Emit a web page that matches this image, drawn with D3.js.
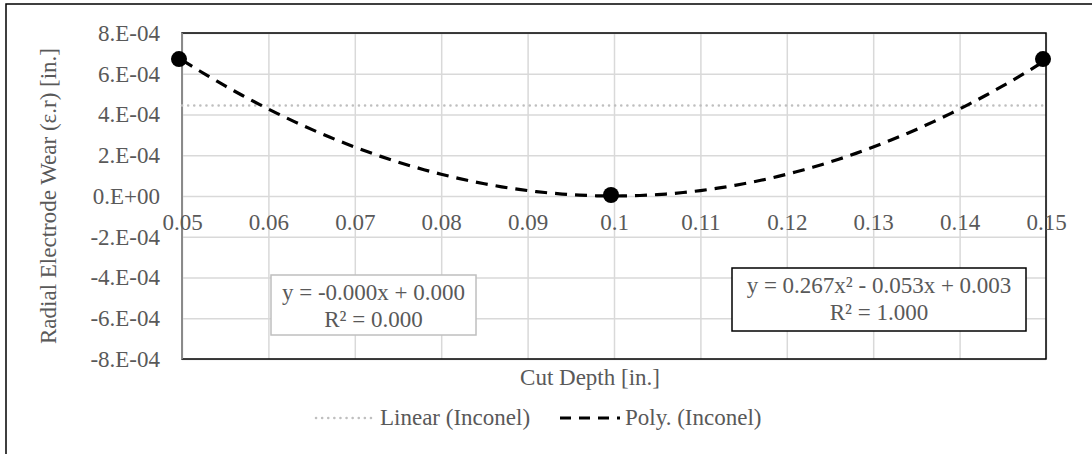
<!DOCTYPE html>
<html>
<head>
<meta charset="utf-8">
<script src="https://cdn.jsdelivr.net/npm/d3@7"></script>
<style>
  body { margin: 0; background: #fff; }
  svg { display: block; }
  text { font-family: "Liberation Serif", "Times New Roman", serif; fill: #595959; }
</style>
</head>
<body>
<div id="chart"></div>
<script>
// chart data
const cutDepth = [0.05, 0.10, 0.15];
const radialWear = [6.67e-4, 0.0, 6.67e-4];
const xTicks = [0.05, 0.06, 0.07, 0.08, 0.09, 0.10, 0.11, 0.12, 0.13, 0.14, 0.15];
const yTicks = [-8e-4, -6e-4, -4e-4, -2e-4, 0, 2e-4, 4e-4, 6e-4, 8e-4];
const linearLabel = ["y = -0.000x + 0.000", "R² = 0.000"];
const polyLabel = ["y = 0.267x² - 0.053x + 0.003", "R² = 1.000"];
const legendNames = ["Linear (Inconel)", "Poly. (Inconel)"];

const width = 1092;
const height = 454;
const margin = {left: 182, right: 46, top: 33, bottom: 95};
const fontSize = "23px";

const svg = d3.select("#chart")
  .append("svg")
  .attr("width", width)
  .attr("height", height);

// outer chart frame
svg.append("rect")
  .attr("x", 6).attr("y", 4)
  .attr("width", width + 10).attr("height", height + 10)
  .attr("fill", "none")
  .attr("stroke", "#000")
  .attr("stroke-width", 1.5);

let xScale = d3.scaleLinear()
  .domain([0.05, 0.15])
  .range([margin.left, width - margin.right]);

let yScale = d3.scaleLinear()
  .domain([-8e-4, 8e-4])
  .range([height - margin.bottom, margin.top]);

// least squares fit, returns coefficients low->high
function polyFit(xs, ys, deg) {
  const n = deg + 1;
  const A = [], b = [];
  for (let r = 0; r < n; r++) {
    A.push([]);
    for (let c = 0; c < n; c++) A[r].push(d3.sum(xs, x => Math.pow(x, r + c)));
    b.push(d3.sum(xs, (x, i) => ys[i] * Math.pow(x, r)));
  }
  // gauss elimination
  for (let i = 0; i < n; i++) {
    for (let k = i + 1; k < n; k++) {
      const f = A[k][i] / A[i][i];
      for (let j = i; j < n; j++) A[k][j] -= f * A[i][j];
      b[k] -= f * b[i];
    }
  }
  const coef = new Array(n).fill(0);
  for (let i = n - 1; i >= 0; i--) {
    let s = b[i];
    for (let j = i + 1; j < n; j++) s -= A[i][j] * coef[j];
    coef[i] = s / A[i][i];
  }
  return coef;
}
const evalPoly = (coef, x) => d3.sum(coef, (c, i) => c * Math.pow(x, i));

const linCoef = polyFit(cutDepth, radialWear, 1);
const quadCoef = polyFit(cutDepth, radialWear, 2);

// y tick format like "6.E-04"
function sciFmt(d) {
  if (d === 0) return "0.E+00";
  const e = Math.floor(Math.log10(Math.abs(d)) + 1e-9);
  const m = Math.round(d / Math.pow(10, e));
  const es = (e < 0 ? "-" : "+") + String(Math.abs(e)).padStart(2, "0");
  return m + ".E" + es;
}

// gridlines
svg.append("g")
  .attr("transform", `translate(${margin.left},0)`)
  .call(d3.axisLeft(yScale).tickValues(yTicks)
    .tickSize(-(width - margin.left - margin.right)).tickFormat(""))
  .call(g => g.select(".domain").remove())
  .call(g => g.selectAll("line").attr("stroke", "#d9d9d9").attr("stroke-width", 1.5));

svg.append("g")
  .attr("transform", `translate(0,${height - margin.bottom})`)
  .call(d3.axisBottom(xScale).tickValues(xTicks)
    .tickSize(-(height - margin.top - margin.bottom)).tickFormat(""))
  .call(g => g.select(".domain").remove())
  .call(g => g.selectAll("line").attr("stroke", "#d9d9d9").attr("stroke-width", 1.5));

// plot frame
svg.append("rect")
  .attr("x", margin.left).attr("y", margin.top)
  .attr("width", width - margin.left - margin.right)
  .attr("height", height - margin.top - margin.bottom)
  .attr("fill", "none")
  .attr("stroke", "#000")
  .attr("stroke-width", 1.5);

svg.append("line")
  .attr("x1", margin.left).attr("x2", margin.left)
  .attr("y1", margin.top).attr("y2", height - margin.bottom)
  .attr("stroke", "#a6a6a6")
  .attr("stroke-width", 1.5);

// y axis labels
svg.append("g")
  .attr("transform", `translate(${margin.left},0)`)
  .call(d3.axisLeft(yScale).tickValues(yTicks).tickSize(0).tickPadding(22).tickFormat(sciFmt))
  .call(g => g.select(".domain").remove())
  .selectAll("text")
    .attr("font-family", "Liberation Serif")
    .attr("font-size", fontSize)
    .attr("fill", "#595959");

// x axis labels sit under the zero line
svg.append("g")
  .attr("transform", `translate(0,${yScale(0)})`)
  .call(d3.axisBottom(xScale).tickValues(xTicks).tickSize(0).tickPadding(18).tickFormat(d3.format("~g")))
  .call(g => g.select(".domain").remove())
  .selectAll("text")
    .attr("font-family", "Liberation Serif")
    .attr("font-size", fontSize)
    .attr("fill", "#595959");

// trendlines
const xs = d3.range(0, 101).map(i => 0.05 + i * 0.001);

svg.append("path")
  .datum(xs)
  .attr("fill", "none")
  .attr("stroke", "#bfbfbf")
  .attr("stroke-width", 2.5)
  .attr("stroke-linecap", "round")
  .attr("stroke-dasharray", "0.1 6")
  .attr("d", d3.line().x(d => xScale(d)).y(d => yScale(evalPoly(linCoef, d))));

svg.append("path")
  .datum(xs)
  .attr("fill", "none")
  .attr("stroke", "#000")
  .attr("stroke-width", 3.2)
  .attr("stroke-dasharray", "12 8")
  .attr("d", d3.line().x(d => xScale(d)).y(d => yScale(evalPoly(quadCoef, d))));

// data points
svg.selectAll(".pt")
  .data(cutDepth)
  .enter()
  .append("circle")
    .attr("class", "pt")
    .attr("cx", d => xScale(d) - 3)
    .attr("cy", (d, i) => yScale(radialWear[i]) - 1)
    .attr("r", 8)
    .attr("fill", "#000");

// equation boxes
function eqBox(x, y, w, h, stroke, lines) {
  svg.append("rect")
    .attr("x", x).attr("y", y).attr("width", w).attr("height", h)
    .attr("fill", "#fff")
    .attr("stroke", stroke)
    .attr("stroke-width", 1.5);
  svg.append("text")
    .attr("x", x + w / 2).attr("y", y + 25)
    .attr("text-anchor", "middle")
    .attr("font-size", fontSize)
    .text(lines[0]);
  svg.append("text")
    .attr("x", x + w / 2).attr("y", y + 52)
    .attr("text-anchor", "middle")
    .attr("font-size", fontSize)
    .text(lines[1]);
}
eqBox(271, 275, 205, 60, "#bfbfbf", linearLabel);
eqBox(732, 268, 294, 63, "#000", polyLabel);

// axis titles
svg.append("text")
  .attr("x", 590).attr("y", 385)
  .attr("text-anchor", "middle")
  .attr("font-size", fontSize)
  .text("Cut Depth [in.]");

svg.append("text")
  .attr("transform", `translate(56,${(margin.top + height - margin.bottom) / 2}) rotate(-90)`)
  .attr("text-anchor", "middle")
  .attr("font-size", fontSize)
  .text("Radial Electrode Wear (ε.r) [in.]");

// legend
const legend = svg.append("g").attr("transform", "translate(0,418)");
legend.append("line")
  .attr("x1", 316).attr("x2", 373)
  .attr("stroke", "#bfbfbf")
  .attr("stroke-width", 2.5)
  .attr("stroke-linecap", "round")
  .attr("stroke-dasharray", "0.1 6");
legend.append("text")
  .attr("x", 380).attr("y", 7)
  .attr("font-size", fontSize)
  .text(legendNames[0]);
legend.append("line")
  .attr("x1", 560).attr("x2", 620)
  .attr("stroke", "#000")
  .attr("stroke-width", 3.2)
  .attr("stroke-dasharray", "11 8");
legend.append("text")
  .attr("x", 625).attr("y", 7)
  .attr("font-size", fontSize)
  .text(legendNames[1]);
</script>
</body>
</html>
